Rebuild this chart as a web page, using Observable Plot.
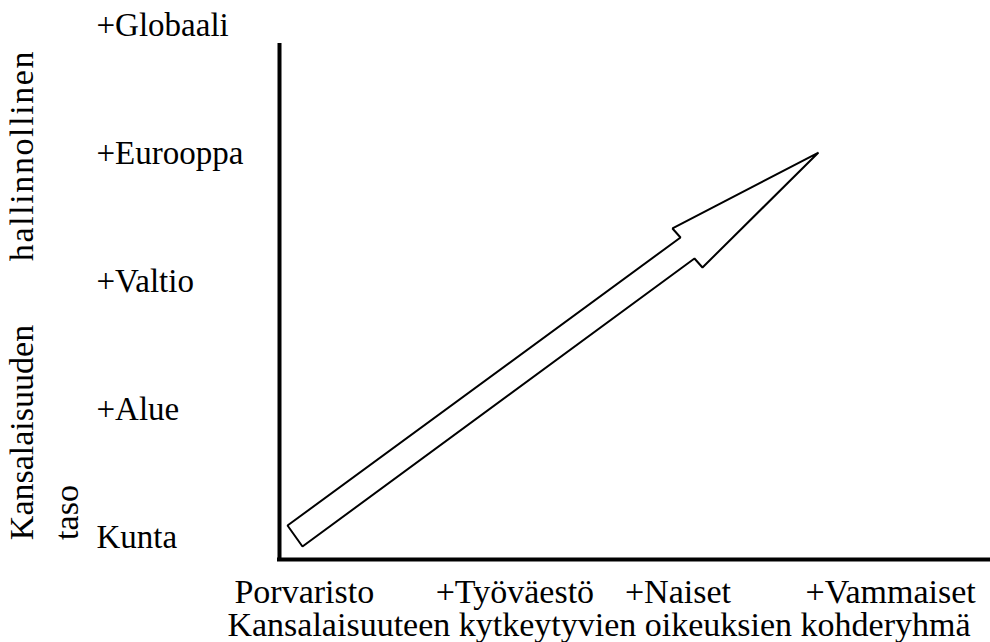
<!DOCTYPE html>
<html><head><meta charset="utf-8">
<script src="https://cdn.jsdelivr.net/npm/d3@7"></script>
<script src="https://cdn.jsdelivr.net/npm/@observablehq/plot@0.6"></script>
<style>body{margin:0;background:#fff} #chart svg{display:block}</style>
</head><body><div id="chart"></div>
<script>
// Y-axis level labels and their positions (data units 0..10 on the frame)
const yLabels = ["Kunta", "+Alue", "+Valtio", "+Eurooppa", "+Globaali"];
const yLevels = [0.43, 2.92, 5.41, 7.90, 10.39];
// X-axis group labels and their positions (data units 0..10 on the frame)
const xLabels = ["Porvaristo", "+Työväestö", "+Naiset", "+Vammaiset"];
const xLevels = [0.35, 3.32, 5.62, 8.62];
// Hollow arrow outline vertices
const arrowX = [0.113, 5.656, 5.543, 7.602, 5.966, 5.853, 0.324];
const arrowY = [0.661, 6.265, 6.440, 7.918, 5.681, 5.856, 0.253];
// Titles
const xTitle = "Kansalaisuuteen kytkeytyvien oikeuksien kohderyhmä";
const yTitleParts = ["hallinnollinen", "Kansalaisuuden", "taso"];

const arrow = arrowX.map((x, i) => ({x, y: arrowY[i]}));
const font = "Liberation Serif";

const chart = Plot.plot({
  width: 990,
  height: 642,
  marginLeft: 279,
  marginRight: 2,
  marginTop: 45,
  marginBottom: 83,
  style: `font-family: 'Liberation Serif', serif; background: white; color: black; overflow: visible;`,
  x: {domain: [0, 10]},
  y: {domain: [0, 10]},
  marks: [
    Plot.line(arrow, {x: "x", y: "y", curve: "linear-closed", fill: "white", stroke: "black", strokeWidth: 2, strokeLinejoin: "miter"}),
    Plot.ruleX([0], {stroke: "black", strokeWidth: 4, strokeLinecap: "square"}),
    Plot.ruleY([0], {stroke: "black", strokeWidth: 4, strokeLinecap: "square"}),
    Plot.axisY({ticks: yLevels, tickFormat: d => yLabels[yLevels.indexOf(d)], tickSize: 0, tickPadding: 3, textAnchor: "start", dx: -180, fontSize: 33, fontFamily: font, label: null}),
    Plot.axisX({ticks: xLevels, tickFormat: d => xLabels[xLevels.indexOf(d)], tickSize: 0, tickPadding: 19, fontSize: 34, fontFamily: font, label: null}),
    Plot.text([xTitle], {text: d => d, frameAnchor: "bottom", textAnchor: "middle", lineAnchor: "middle", dx: -35, dy: 66, fontSize: 34, fontFamily: font}),
    Plot.text([yTitleParts[0]], {text: d => d, frameAnchor: "top-left", textAnchor: "middle", lineAnchor: "middle", rotate: -90, dx: -257, dy: 110, fontSize: 34, fontFamily: font}),
    Plot.text([yTitleParts[1]], {text: d => d, frameAnchor: "top-left", textAnchor: "middle", lineAnchor: "middle", rotate: -90, dx: -257, dy: 387, fontSize: 34, fontFamily: font}),
    Plot.text([yTitleParts[2]], {text: d => d, frameAnchor: "top-left", textAnchor: "middle", lineAnchor: "middle", rotate: -90, dx: -212, dy: 467, fontSize: 34, fontFamily: font})
  ]
});
// the upper word of the rotated title is set with wider letter spacing in the reference
d3.select(chart).selectAll("text")
  .filter(function() { return this.textContent === yTitleParts[0]; })
  .style("letter-spacing", "1.6px");
document.getElementById("chart").appendChild(chart);
</script>
</body></html>
